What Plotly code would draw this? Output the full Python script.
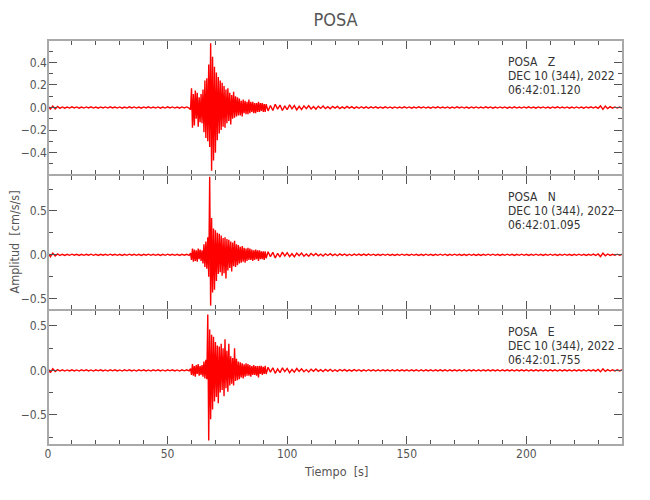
import numpy as np
import plotly.graph_objects as go
from plotly.subplots import make_subplots

# ---------------- data ----------------
# sampling segments: (start time, step) for pre-event, event, coda, tail
seg_pre = (0.0, 1.0)
seg_event = (59.6, 0.4)
seg_coda = (92.0, 1.0)
seg_tail = (131.0, 1.0)

z_pre = [0.014,-0.015,0.012,-0.013,0.009,-0.007,0.005,-0.006,0.004,-0.005,
         0.006,-0.004,0.005,-0.006,0.004,-0.005,0.005,-0.004,0.006,-0.005,
         0.004,-0.006,0.005,-0.004,0.005,-0.005,0.006,-0.004,0.004,-0.005,
         0.005,-0.006,0.004,-0.005,0.006,-0.004,0.005,-0.005,0.004,-0.006,
         0.005,-0.004,0.006,-0.005,0.004,-0.005,0.005,-0.006,0.004,-0.005,
         0.006,-0.004,0.005,-0.005,0.004,-0.006,0.005,-0.004,0.005,-0.005]
z_event = [-0.02, 0.17, -0.18, 0.12, -0.16, 0.15, -0.10, 0.13, -0.17, 0.09,
           -0.13, 0.12, -0.14, 0.16, -0.22, 0.24, -0.27, 0.26, -0.30, 0.38,
           -0.35, 0.57, -0.56, 0.45, -0.47, 0.36, -0.40, 0.31, -0.29, 0.27,
           -0.23, 0.24, -0.20, 0.22, -0.17, 0.19, -0.18, 0.16, -0.14, 0.17,
           -0.12, 0.13, -0.15, 0.11, -0.10, 0.14, -0.09, 0.10, -0.08, 0.09,
           -0.07, 0.08, -0.07, 0.06, -0.08, 0.07, -0.05, 0.06, -0.06, 0.05,
           -0.06, 0.07, -0.05, 0.05, -0.04, 0.05, -0.05, 0.04, -0.05, 0.04,
           -0.04, 0.05, -0.04, 0.04, -0.03, 0.04, -0.04, 0.03, -0.04, 0.03]
z_coda = [-0.030,0.018,-0.026,0.029,-0.014,0.022,-0.027,0.015,-0.020,0.024,
          -0.012,0.017,-0.021,0.011,-0.018,0.015,-0.010,0.016,-0.013,0.009,
          -0.014,0.012,-0.008,0.013,-0.010,0.007,-0.011,0.010,-0.006,0.009,
          -0.010,0.006,-0.008,0.009,-0.005,0.008,-0.007,0.006,-0.007]
z_tail = [0.007,-0.006,0.006,-0.007,0.006,-0.005,0.006,-0.006,0.005,-0.006,
          0.006,-0.005,0.005,-0.006,0.005,-0.005,0.004,-0.005,0.006,-0.005,
          0.005,-0.006,0.004,-0.005,0.006,-0.004,0.005,-0.005,0.004,-0.006,
          0.005,-0.004,0.006,-0.005,0.004,-0.005,0.005,-0.006,0.004,-0.005,
          0.006,-0.004,0.005,-0.005,0.004,-0.006,0.005,-0.004,0.005,-0.005,
          0.004,-0.005,0.006,-0.004,0.005,-0.006,0.004,-0.005,0.005,-0.004,
          0.005,-0.006,0.004,-0.005,0.006,-0.005,0.004,-0.005,0.005,-0.004,
          0.006,-0.005,0.004,-0.006,0.005,-0.004,0.005,-0.005,0.004,-0.006,
          0.005,-0.004,0.006,-0.005,0.004,-0.005,0.005,-0.006,0.004,-0.005,
          0.005,-0.005,0.004,-0.006,0.005,-0.004,0.006,-0.005,0.006,-0.007,
          0.014,-0.016,0.012,-0.010,0.007,-0.006,0.005,-0.005,0.004,-0.005,
          0.004]

n_pre = [0.020,-0.022,0.018,-0.014,0.010,-0.008,0.006,-0.007,0.005,-0.006,
         0.007,-0.005,0.006,-0.007,0.005,-0.006,0.006,-0.005,0.007,-0.006,
         0.005,-0.007,0.006,-0.005,0.006,-0.006,0.007,-0.005,0.005,-0.006,
         0.006,-0.007,0.005,-0.006,0.007,-0.005,0.006,-0.006,0.005,-0.007,
         0.006,-0.005,0.007,-0.006,0.005,-0.006,0.006,-0.007,0.005,-0.006,
         0.007,-0.005,0.006,-0.006,0.005,-0.007,0.006,-0.005,0.006,-0.006]
n_event = [0.02, -0.06, 0.07, -0.08, 0.06, -0.07, 0.05, -0.08, 0.07, -0.05,
           0.06, -0.07, 0.05, -0.10, 0.12, -0.14, 0.15, -0.16, 0.20, -0.25,
           0.89, -0.58, 0.42, -0.43, 0.30, -0.40, 0.28, -0.30, 0.25, -0.22,
           0.24, -0.20, 0.22, -0.24, 0.19, -0.21, 0.20, -0.27, 0.18, -0.18,
           0.17, -0.15, 0.15, -0.19, 0.14, -0.13, 0.16, -0.14, 0.12, -0.12,
           0.11, -0.10, 0.09, -0.09, 0.10, -0.08, 0.08, -0.09, 0.07, -0.07,
           0.08, -0.06, 0.07, -0.06, 0.06, -0.07, 0.05, -0.06, 0.06, -0.05,
           0.05, -0.07, 0.05, -0.05, 0.04, -0.05, 0.04, -0.06, 0.04, -0.04]
n_coda = [0.035,-0.022,0.028,-0.036,0.017,-0.026,0.030,-0.015,0.024,-0.020,
          0.012,-0.023,0.019,-0.011,0.020,-0.016,0.010,-0.017,0.014,-0.009,
          0.015,-0.012,0.008,-0.014,0.011,-0.008,0.013,-0.010,0.007,-0.011,
          0.010,-0.007,0.009,-0.010,0.006,-0.009,0.008,-0.006,0.008]
n_tail = [-0.008,0.007,-0.008,0.007,-0.006,0.007,-0.007,0.006,-0.007,0.007,
          -0.006,0.007,-0.007,0.006,-0.007,0.006,-0.006,0.007,-0.006,0.006,
          -0.007,0.007,-0.006,0.006,-0.007,0.006,-0.007,0.007,-0.006,0.006,
          -0.007,0.006,-0.006,0.007,-0.006,0.007,-0.007,0.006,-0.006,0.007,
          -0.006,0.006,-0.007,0.006,-0.007,0.007,-0.006,0.006,-0.007,0.006,
          -0.007,0.006,-0.006,0.007,-0.006,0.007,-0.006,0.006,-0.007,0.006,
          -0.006,0.007,-0.006,0.006,-0.007,0.006,-0.006,0.007,-0.006,0.006,
          -0.007,0.006,-0.006,0.007,-0.006,0.006,-0.007,0.006,-0.006,0.007,
          -0.006,0.006,-0.007,0.006,-0.006,0.007,-0.006,0.006,-0.007,0.006,
          -0.006,0.007,-0.006,0.006,-0.007,0.006,-0.006,0.007,-0.008,0.009,
          -0.020,0.018,-0.012,0.009,-0.007,0.006,-0.006,0.007,-0.006,0.006,
          -0.006]

e_pre = [0.024,-0.026,0.018,-0.013,0.009,-0.007,0.006,-0.007,0.005,-0.006,
         0.007,-0.006,0.005,-0.007,0.006,-0.005,0.007,-0.006,0.005,-0.007,
         0.006,-0.005,0.007,-0.006,0.005,-0.007,0.006,-0.005,0.007,-0.006,
         0.005,-0.007,0.006,-0.005,0.007,-0.006,0.005,-0.007,0.006,-0.005,
         0.007,-0.006,0.005,-0.007,0.006,-0.005,0.007,-0.006,0.005,-0.007,
         0.006,-0.005,0.007,-0.006,0.005,-0.007,0.006,-0.005,0.007,-0.006]
e_event = [0.02, -0.05, 0.07, -0.06, 0.05, -0.07, 0.06, -0.04, 0.07, -0.06,
           0.05, -0.05, 0.06, -0.07, 0.10, -0.09, 0.12, -0.10, 0.63, -0.79,
           0.46, -0.55, 0.40, -0.44, 0.38, -0.35, 0.32, -0.30, 0.28, -0.37,
           0.27, -0.25, 0.30, -0.22, 0.25, -0.29, 0.35, -0.20, 0.22, -0.24,
           0.30, -0.17, 0.16, -0.15, 0.14, -0.17, 0.25, -0.12, 0.13, -0.11,
           0.10, -0.10, 0.09, -0.08, 0.08, -0.09, 0.07, -0.07, 0.08, -0.06,
           0.07, -0.06, 0.06, -0.07, 0.05, -0.05, 0.06, -0.05, 0.05, -0.06,
           0.05, -0.08, 0.05, -0.04, 0.05, -0.05, 0.04, -0.04, 0.05, -0.04]
e_coda = [0.035,-0.019,0.030,-0.033,0.016,-0.026,0.028,-0.014,0.022,-0.025,
          0.011,-0.020,0.021,-0.012,0.018,-0.015,0.009,-0.017,0.014,-0.010,
          0.015,-0.011,0.008,-0.013,0.012,-0.007,0.012,-0.010,0.007,-0.011,
          0.010,-0.006,0.009,-0.009,0.006,-0.009,0.008,-0.006,0.008]
e_tail = [-0.008,0.007,-0.007,0.008,-0.006,0.007,-0.007,0.006,-0.007,0.007,
          -0.006,0.007,-0.007,0.006,-0.007,0.006,-0.006,0.007,-0.006,0.006,
          -0.007,0.007,-0.006,0.006,-0.007,0.006,-0.007,0.007,-0.006,0.006,
          -0.007,0.006,-0.006,0.007,-0.006,0.007,-0.007,0.006,-0.006,0.007,
          -0.006,0.006,-0.007,0.006,-0.007,0.007,-0.006,0.006,-0.007,0.006,
          -0.007,0.006,-0.006,0.007,-0.006,0.007,-0.006,0.006,-0.007,0.006,
          -0.006,0.007,-0.006,0.006,-0.007,0.006,-0.006,0.007,-0.006,0.006,
          -0.007,0.006,-0.006,0.007,-0.006,0.006,-0.007,0.006,-0.006,0.007,
          -0.006,0.006,-0.007,0.006,-0.006,0.007,-0.006,0.006,-0.007,0.006,
          -0.006,0.007,-0.006,0.006,-0.007,0.006,-0.006,0.007,-0.008,0.010,
          -0.016,0.018,-0.011,0.008,-0.007,0.006,-0.006,0.007,-0.006,0.006,
          -0.006]

components = ["Z", "N", "E"]
start_times = ["06:42:01.120", "06:42:01.095", "06:42:01.755"]
station = "POSA"
date_label = "DEC 10 (344), 2022"
y_ranges = [[-0.598, 0.598], [-0.63, 0.91], [-0.84, 0.68]]
y_dticks = [0.2, 0.5, 0.5]
y_minor = [0.1, 0.25, 0.25]
x_range = [0, 240.4]

# ---------------- build ----------------
def build(parts):
    ts, vs = [], []
    for (t0, dt), vals in zip([seg_pre, seg_event, seg_coda, seg_tail], parts):
        ts.append(t0 + dt * np.arange(len(vals)))
        vs.append(np.asarray(vals))
    return np.concatenate(ts), np.concatenate(vs)

traces = [build([z_pre, z_event, z_coda, z_tail]),
          build([n_pre, n_event, n_coda, n_tail]),
          build([e_pre, e_event, e_coda, e_tail])]

FONT = "Liberation Sans Narrow, DejaVu Sans Condensed, Arial Narrow, sans-serif"
AXC = "#a9a9a9"
TKC = "#555555"

fig = make_subplots(rows=3, cols=1, shared_xaxes=True, vertical_spacing=0)

for i, (t, v) in enumerate(traces):
    fig.add_trace(go.Scatter(x=t, y=v, mode="lines",
                             line=dict(color="#ff0000", width=1.4),
                             showlegend=False, hoverinfo="skip"),
                  row=i + 1, col=1)
    fig.update_yaxes(range=y_ranges[i], dtick=y_dticks[i], tick0=0,
                     tickformat=".1f", row=i + 1, col=1,
                     minor=dict(dtick=y_minor[i], tick0=0, ticks="inside",
                                ticklen=5, tickcolor=TKC, tickwidth=1))
    fig.update_xaxes(range=x_range, dtick=50, tick0=0, row=i + 1, col=1,
                     showticklabels=(i == 2),
                     minor=dict(dtick=10, tick0=0, ticks="inside",
                                ticklen=5, tickcolor=TKC, tickwidth=1))

common = dict(showline=False, mirror="ticks", automargin=False,
              ticks="inside", ticklen=9, tickcolor=TKC, tickwidth=1,
              showgrid=False, zeroline=False,
              tickfont=dict(family=FONT, size=12, color="#555555"))
fig.update_xaxes(**common)
fig.update_yaxes(**common)

# panel frames
for i in range(3):
    lo, hi = 1 - (i + 1) / 3.0, 1 - i / 3.0
    fig.add_shape(type="rect", xref="paper", yref="paper",
                  x0=0, x1=1, y0=lo, y1=hi, layer="above",
                  line=dict(color=AXC, width=2))

# station labels inside each panel
PANEL_H = 135.0
for i in range(3):
    yref = "y domain" if i == 0 else f"y{i+1} domain"
    lines = [f"{station}\u00a0\u00a0\u00a0{components[i]}", date_label, start_times[i]]
    offs = [21.5, 35.8, 50.3]
    for txt, off in zip(lines, offs):
        fig.add_annotation(text=txt, xref="paper", yref=yref,
                           x=(506.0 - 48) / 575.0, y=1 - off / PANEL_H,
                           xanchor="left", yanchor="middle", showarrow=False,
                           font=dict(family=FONT, size=12, color="#333333"))

fig.add_annotation(text="Amplitud\u00a0\u00a0[cm/s/s]", xref="paper", yref="paper",
                   x=(14 - 48) / 575.0, y=0.5, xanchor="center", yanchor="middle",
                   textangle=-90, showarrow=False,
                   font=dict(family=FONT, size=12.5, color="#555555"))
fig.add_annotation(text="Tiempo\u00a0\u00a0[s]", xref="paper", yref="paper",
                   x=0.5, y=-(471.5 - 445) / 405.0, xanchor="center", yanchor="middle",
                   showarrow=False,
                   font=dict(family=FONT, size=12.5, color="#555555"))

fig.update_layout(
    width=650, height=500,
    margin=dict(l=48, r=27, t=40, b=55, autoexpand=False),
    paper_bgcolor="white", plot_bgcolor="white",
    title=dict(text="POSA", x=(48 + 623) / 2 / 650, xanchor="center",
               y=1 - 20 / 500, yanchor="middle",
               font=dict(family=FONT, size=18, color="#555555")),
    showlegend=False,
)

fig.write_html("out.html", config={"displayModeBar": False},
               post_script="document.body.style.margin='0';document.body.style.padding='0';")
